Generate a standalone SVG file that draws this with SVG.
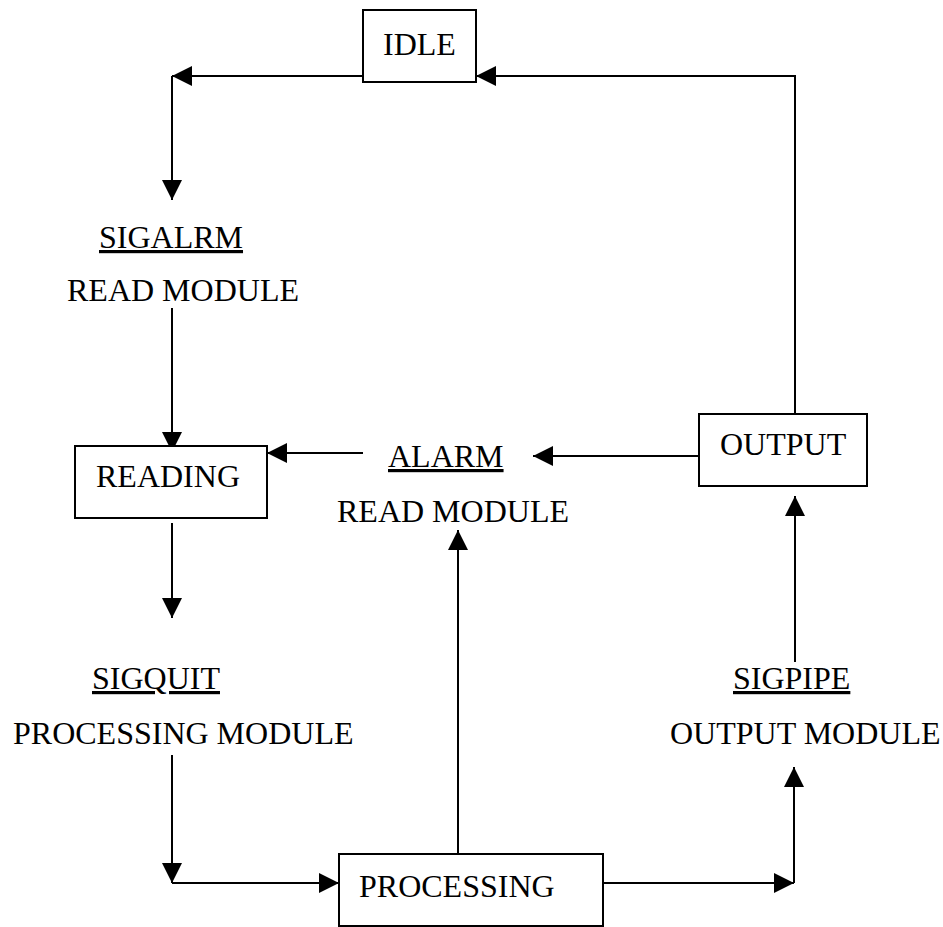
<svg xmlns="http://www.w3.org/2000/svg" width="943" height="927" viewBox="0 0 943 927">
<style>
text{font-family:"Liberation Serif","Times New Roman",serif;font-size:32px;fill:#000}
.u{text-decoration:underline}
.box{fill:#fff;stroke:#000;stroke-width:2}
.c{fill:none;stroke:#000;stroke-width:2}
</style>
<defs>
<marker id="ah" markerUnits="userSpaceOnUse" markerWidth="22" markerHeight="22" viewBox="0 0 22 22" refX="21" refY="11" orient="auto">
<path d="M1,1 L21,11 L1,21 Z" fill="#000"/>
</marker>
</defs>
<rect width="943" height="927" fill="#fff"/>
<g id="connectors">
<path class="c" d="M363,76 H172" marker-end="url(#ah)"/>
<path class="c" d="M172,76 V200" marker-end="url(#ah)"/>
<path class="c" d="M172,308 V452" marker-end="url(#ah)"/>
<path class="c" d="M363,453 H267" marker-end="url(#ah)"/>
<path class="c" d="M699,456 H533" marker-end="url(#ah)"/>
<path class="c" d="M795,414 V76 H476" marker-end="url(#ah)"/>
<path class="c" d="M172,523 V618" marker-end="url(#ah)"/>
<path class="c" d="M172,755 V883" marker-end="url(#ah)"/>
<path class="c" d="M172,883 H339" marker-end="url(#ah)"/>
<path class="c" d="M458,854 V530" marker-end="url(#ah)"/>
<path class="c" d="M603,883 H794" marker-end="url(#ah)"/>
<path class="c" d="M794,883 V767" marker-end="url(#ah)"/>
<path class="c" d="M795,662 V496" marker-end="url(#ah)"/>
</g>
<g id="idle"><rect class="box" x="363" y="10" width="113" height="72"/><text x="383" y="55">IDLE</text></g>
<g id="sigalrm"><text class="u" x="99" y="248">SIGALRM</text><text x="67" y="301">READ MODULE</text></g>
<g id="reading"><rect class="box" x="75" y="446" width="192" height="72"/><text x="96" y="487">READING</text></g>
<g id="alarm"><text class="u" x="388" y="467">ALARM</text><text x="337" y="522">READ MODULE</text></g>
<g id="output"><rect class="box" x="699" y="414" width="168" height="72"/><text x="720" y="455">OUTPUT</text></g>
<g id="sigquit"><text class="u" x="92" y="689">SIGQUIT</text><text x="13" y="744">PROCESSING MODULE</text></g>
<g id="processing"><rect class="box" x="339" y="854" width="264" height="72"/><text x="359" y="897">PROCESSING</text></g>
<g id="sigpipe"><text class="u" x="733" y="689">SIGPIPE</text><text x="670" y="744">OUTPUT MODULE</text></g>
</svg>
